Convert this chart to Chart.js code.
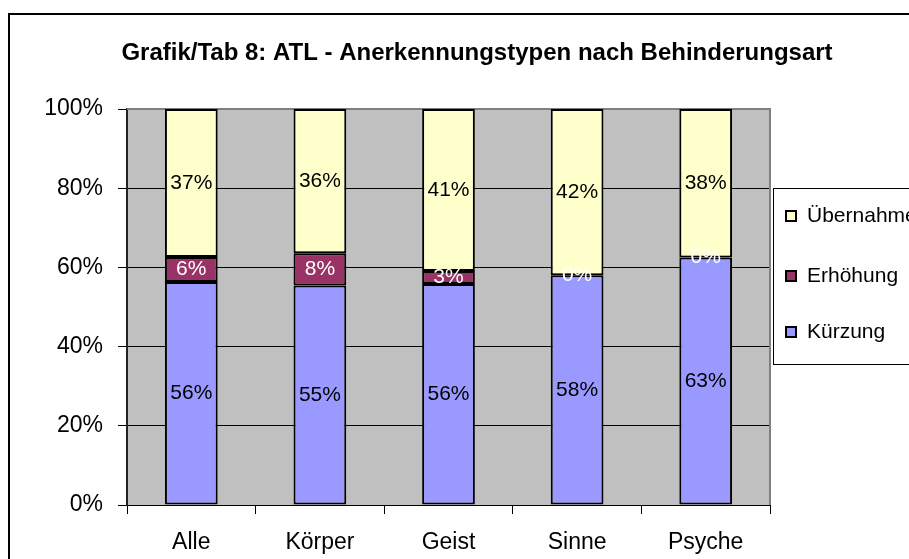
<!DOCTYPE html>
<html>
<head>
<meta charset="utf-8">
<script src="https://cdn.jsdelivr.net/npm/chart.js@4"></script>
<style>
    html, body { margin: 0; padding: 0; background: #fff; }
    #wrap { width: 909px; height: 559px; }
</style>
</head>
<body>
<div id="wrap"><canvas id="chart" width="909" height="559"></canvas></div>
<script>
const chartTitle = 'Grafik/Tab 8: ATL - Anerkennungstypen nach Behinderungsart';
const categories = ['Alle', 'Körper', 'Geist', 'Sinne', 'Psyche'];
const seriesNames = ['Kürzung', 'Erhöhung', 'Übernahme'];
const kuerzung = [56.3, 55.4, 55.8, 58.0, 62.5];
const erhoehung = [6.3, 8.2, 3.3, 0.0, 0.0];
const uebernahme = [37.4, 36.4, 40.9, 42.0, 37.5];
const yTicks = [0, 20, 40, 60, 80, 100];

const FONT = 'Liberation Sans, Arial, sans-serif';
const fillColors = ['#9999FF', '#993366', '#FFFFCC'];
const labelColors = ['#000', '#fff', '#000'];

// Rahmen, Titel, grauer Hintergrund der Zeichenfläche
const framePlugin = {
    id: 'frame',
    beforeDraw(chart) {
        const ctx = chart.ctx;
        const a = chart.chartArea;
        ctx.save();
        ctx.strokeStyle = '#000';
        ctx.lineWidth = 2;
        ctx.strokeRect(9, 14, 1000, 700);
        ctx.fillStyle = '#C0C0C0';
        ctx.fillRect(a.left, a.top, a.right - a.left, a.bottom - a.top);
        ctx.fillStyle = '#000';
        ctx.font = 'bold 24px ' + FONT;
        ctx.textAlign = 'center';
        ctx.textBaseline = 'middle';
        ctx.fillText(chartTitle, 477, 53);
        ctx.restore();
    },
    beforeDatasetsDraw(chart) {
        const ctx = chart.ctx;
        const a = chart.chartArea;
        ctx.save();
        ctx.strokeStyle = '#808080';
        ctx.lineWidth = 2;
        ctx.beginPath();
        ctx.moveTo(a.left, a.top);
        ctx.lineTo(a.right, a.top);
        ctx.lineTo(a.right, a.bottom);
        ctx.stroke();
        ctx.restore();
    }
};

// Prozentwerte in den Balken
const labelPlugin = {
    id: 'barLabels',
    afterDatasetsDraw(chart) {
        const ctx = chart.ctx;
        ctx.save();
        ctx.font = '21px ' + FONT;
        ctx.textAlign = 'center';
        ctx.textBaseline = 'middle';
        chart.data.datasets.forEach((ds, i) => {
            const meta = chart.getDatasetMeta(i);
            ctx.fillStyle = labelColors[i];
            meta.data.forEach((bar, j) => {
                const p = bar.getProps(['x', 'y', 'base'], true);
                ctx.fillText(Math.round(ds.data[j]) + '%', p.x, (p.y + p.base) / 2);
            });
        });
        ctx.restore();
    }
};

// Legende rechts (wird am Rand abgeschnitten)
const legendPlugin = {
    id: 'sideLegend',
    afterDraw(chart) {
        const ctx = chart.ctx;
        ctx.save();
        ctx.fillStyle = '#fff';
        ctx.fillRect(774, 189, 200, 176);
        ctx.strokeStyle = '#000';
        ctx.lineWidth = 1;
        ctx.strokeRect(773.5, 188.5, 200, 176);
        const rows = [216, 276, 332];
        const order = [2, 1, 0];
        ctx.font = '21px ' + FONT;
        ctx.textBaseline = 'middle';
        order.forEach((dsIndex, r) => {
            const ds = chart.data.datasets[dsIndex];
            ctx.fillStyle = ds.backgroundColor;
            ctx.fillRect(786, rows[r] - 5, 10, 10);
            ctx.lineWidth = 2;
            ctx.strokeRect(786, rows[r] - 5, 10, 10);
            ctx.fillStyle = '#000';
            ctx.fillText(ds.label, 807, rows[r]);
        });
        ctx.restore();
    }
};

const seriesData = [kuerzung, erhoehung, uebernahme];

new Chart(document.getElementById('chart'), {
    type: 'bar',
    data: {
        labels: categories,
        datasets: seriesNames.map((name, i) => ({
            label: name,
            data: seriesData[i],
            backgroundColor: fillColors[i],
            borderColor: '#000',
            borderWidth: 2,
            borderSkipped: false,
            categoryPercentage: 1,
            barPercentage: 0.41
        }))
    },
    options: {
        responsive: false,
        animation: false,
        layout: { padding: { top: 109, left: 8, right: 139, bottom: 0 } },
        plugins: {
            legend: { display: false },
            title: { display: false },
            tooltip: { enabled: false }
        },
        scales: {
            x: {
                stacked: true,
                grid: { offset: true, drawOnChartArea: false, drawTicks: true, tickLength: 9, color: '#000' },
                border: { color: '#000', width: 1 },
                ticks: { color: '#000', font: { family: FONT, size: 23 }, padding: 15, maxRotation: 0 },
                afterFit(scale) { scale.height = 54; }
            },
            y: {
                stacked: true,
                min: 0,
                max: 100,
                afterBuildTicks(scale) { scale.ticks = yTicks.map(v => ({ value: v })); },
                grid: { color: '#000', lineWidth: 1, tickLength: 9 },
                border: { color: '#222', width: 2 },
                ticks: {
                    color: '#000',
                    font: { family: FONT, size: 23 },
                    padding: 15,
                    callback: v => v + '%'
                },
                afterFit(scale) { scale.width = 119; }
            }
        }
    },
    plugins: [framePlugin, labelPlugin, legendPlugin]
});
</script>
</body>
</html>
